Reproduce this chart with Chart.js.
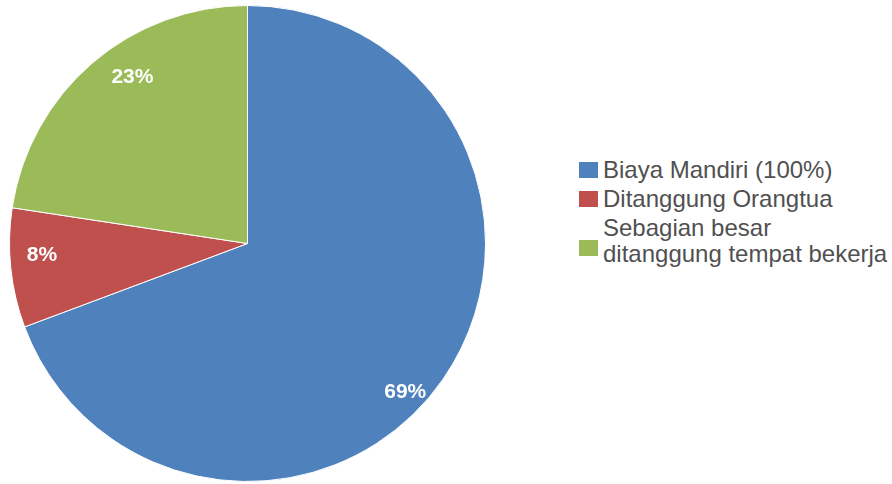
<!DOCTYPE html>
<html>
<head>
<meta charset="utf-8">
<script src="https://cdn.jsdelivr.net/npm/chart.js@4"></script>
<style>
  body { margin: 0; background: #fff; width: 892px; height: 484px; position: relative; overflow: hidden; font-family: "Liberation Sans", Arial, sans-serif; }
  #pieBox { position: absolute; left: 9px; top: 5px; width: 477px; height: 477px; }
  #legend { position: absolute; left: 579px; top: 157px; color: #505050; font-size: 24px; line-height: 26px; white-space: nowrap; }
  .item { display: flex; align-items: flex-start; margin-bottom: 3px; }
  .box { width: 19px; height: 16px; margin-right: 5px; flex: none; }
</style>
</head>
<body>
<div id="pieBox"><canvas id="pieChart"></canvas></div>
<div id="legend"></div>
<script>
const labels = ['Biaya Mandiri (100%)', 'Ditanggung Orangtua', 'Sebagian besar\nditanggung tempat bekerja'];
const values = [69.3, 8.1, 22.6];
const colors = ['#4F81BD', '#C0504D', '#9BBB59'];

// legend on the right, built from the same arrays
const legend = document.getElementById('legend');
labels.forEach((text, i) => {
    const lines = text.split('\n');
    const item = document.createElement('div');
    item.className = 'item';
    const box = document.createElement('div');
    box.className = 'box';
    box.style.background = colors[i];
    box.style.marginTop = (lines.length * 13 - 8 + (lines.length - 1) * 7) + 'px';
    const span = document.createElement('div');
    span.innerHTML = lines.join('<br>');
    item.appendChild(box);
    item.appendChild(span);
    legend.appendChild(item);
});

// percent text inside each slice (small nudges to sit like the original)
const sliceText = {
    id: 'sliceText',
    afterDatasetsDraw(chart, args, opts) {
        const ctx = chart.ctx;
        const total = values.reduce((a, b) => a + b, 0);
        chart.getDatasetMeta(0).data.forEach((arc, i) => {
            const p = arc.getProps(['x', 'y', 'startAngle', 'endAngle', 'outerRadius']);
            const mid = (p.startAngle + p.endAngle) / 2 + opts.turn[i] * Math.PI / 180;
            const r = p.outerRadius * opts.depth[i];
            ctx.save();
            ctx.fillStyle = '#fff';
            ctx.font = 'bold 21px "Liberation Sans", Arial, sans-serif';
            ctx.textAlign = 'center';
            ctx.textBaseline = 'middle';
            ctx.fillText(Math.round(values[i] / total * 100) + '%', p.x + Math.cos(mid) * r, p.y + Math.sin(mid) * r);
            ctx.restore();
        });
    }
};

new Chart(document.getElementById('pieChart'), {
    type: 'pie',
    data: {
        labels: labels,
        datasets: [{
            data: values,
            backgroundColor: colors,
            borderColor: '#ffffff',
            borderWidth: 1
        }]
    },
    options: {
        responsive: true,
        maintainAspectRatio: false,
        animation: false,
        layout: { padding: 0 },
        plugins: {
            legend: { display: false },
            tooltip: { enabled: false },
            sliceText: { turn: [8.5, 2.8, 6], depth: [0.91, 0.865, 0.85] }
        }
    },
    plugins: [sliceText]
});
</script>
</body>
</html>
